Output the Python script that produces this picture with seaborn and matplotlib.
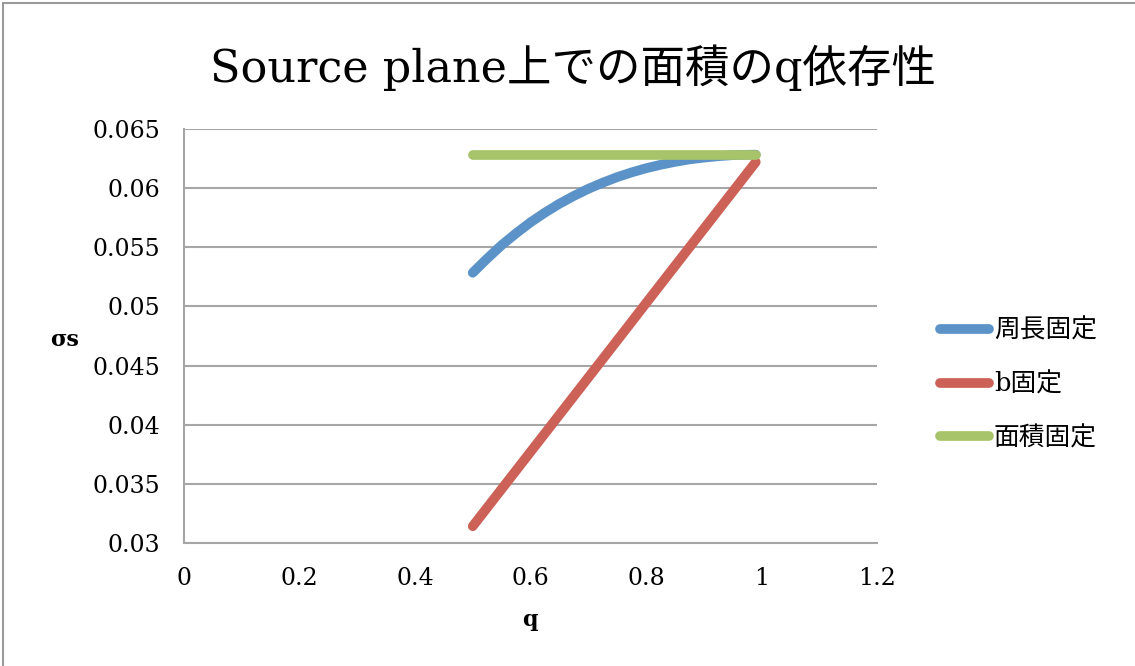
import matplotlib
matplotlib.use("Agg")
import matplotlib.pyplot as plt
from matplotlib.patches import Rectangle
from matplotlib.lines import Line2D
import seaborn as sns
import pandas as pd

# axis ratio q and source-plane area sigma_s for each constraint
q = [0.500, 0.525, 0.550, 0.575, 0.600, 0.625, 0.650, 0.675, 0.700, 0.725,
     0.750, 0.775, 0.800, 0.825, 0.850, 0.875, 0.900, 0.925, 0.950, 0.975,
     0.990]
perimeter_fixed = [0.05285, 0.05405, 0.05518, 0.05618, 0.05711, 0.05793,
                   0.05868, 0.05934, 0.05994, 0.06046, 0.06093, 0.06133,
                   0.06168, 0.06197, 0.06222, 0.06243, 0.06258, 0.06270,
                   0.06279, 0.06282, 0.06283]
b_fixed = [0.03142, 0.03299, 0.03456, 0.03613, 0.03770, 0.03927, 0.04084,
           0.04241, 0.04398, 0.04555, 0.04712, 0.04869, 0.05027, 0.05184,
           0.05341, 0.05498, 0.05655, 0.05812, 0.05969, 0.06126, 0.06220]
area_fixed = [0.06283] * len(q)

series_names = ["周長固定", "b固定", "面積固定"]
colors = ["#5B93C8", "#CC6158", "#A8C46A"]

xticks = [0, 0.2, 0.4, 0.6, 0.8, 1, 1.2]
xticklabels = ["0", "0.2", "0.4", "0.6", "0.8", "1", "1.2"]
yticks = [0.03, 0.035, 0.04, 0.045, 0.05, 0.055, 0.06, 0.065]
yticklabels = ["0.03", "0.035", "0.04", "0.045", "0.05", "0.055", "0.06", "0.065"]

df = pd.DataFrame({
    "q": q * 3,
    "sigma": perimeter_fixed + b_fixed + area_fixed,
    "series": [series_names[0]] * len(q) + [series_names[1]] * len(q)
              + [series_names[2]] * len(q),
})

sns.set_style("white")
fonts = ["DejaVu Serif", "Noto Sans CJK JP"]
plt.rcParams["font.family"] = fonts
plt.rcParams["text.color"] = "black"

W, H = 1135, 666
fig = plt.figure(figsize=(W / 100, H / 100), dpi=100)
ax = fig.add_axes([184 / W, 1 - 543 / H, (877 - 184) / W, (543 - 129) / H])

sns.lineplot(data=df, x="q", y="sigma", hue="series", hue_order=series_names,
             palette=colors, linewidth=7, solid_capstyle="round",
             solid_joinstyle="round", ax=ax, legend=False, sort=False)

grid_color = "#A6A6A6"
ax.set_xlim(0, 1.2)
ax.set_ylim(0.03, 0.065)
ax.set_xticks(xticks)
ax.set_xticklabels(xticklabels)
ax.set_yticks(yticks)
ax.set_yticklabels(yticklabels)
ax.yaxis.grid(True, color=grid_color, linewidth=1.5)
ax.set_axisbelow(True)
for side in ["top", "right"]:
    ax.spines[side].set_visible(False)
for side in ["left", "bottom"]:
    ax.spines[side].set_color(grid_color)
    ax.spines[side].set_linewidth(1.5)
ax.tick_params(axis="both", direction="out", length=6, width=1.5,
               colors=grid_color, labelcolor="black", labelsize=17)
ax.tick_params(axis="y", pad=11)
ax.tick_params(axis="x", pad=11)

ax.set_xlabel("q", fontsize=16, fontweight="bold", va="center", ha="center",
              color="black")
ax.xaxis.set_label_coords((530 - 184) / 693, (543 - 620) / 414)
ax.set_ylabel("σs", fontsize=16, fontweight="bold", rotation=0,
              va="center", ha="center", color="black")
ax.yaxis.set_label_coords((65 - 184) / 693, (543 - 340) / 414)

fig.suptitle("Source plane上での面積のq依存性", x=573 / W, y=1 - 68 / H,
             va="center", fontsize=32, family=fonts, color="black")

handles = [Line2D([0], [0], color=c, linewidth=7, solid_capstyle="round")
           for c in colors]
fig.legend(handles, series_names, loc="center left",
           bbox_to_anchor=(940 / W, 1 - 384 / H), frameon=False,
           fontsize=18.5, handlelength=1.9, handletextpad=0.2,
           labelspacing=1.12, borderpad=0, borderaxespad=0,
           labelcolor="black")

# outer chart-area border
fig.patches.append(Rectangle((3 / W, -0.1), 1.2, 1 - 3 / H + 0.1,
                             transform=fig.transFigure, fill=False,
                             edgecolor="#9A9A9A", linewidth=1.5))

fig.savefig("out.png", dpi=100)
